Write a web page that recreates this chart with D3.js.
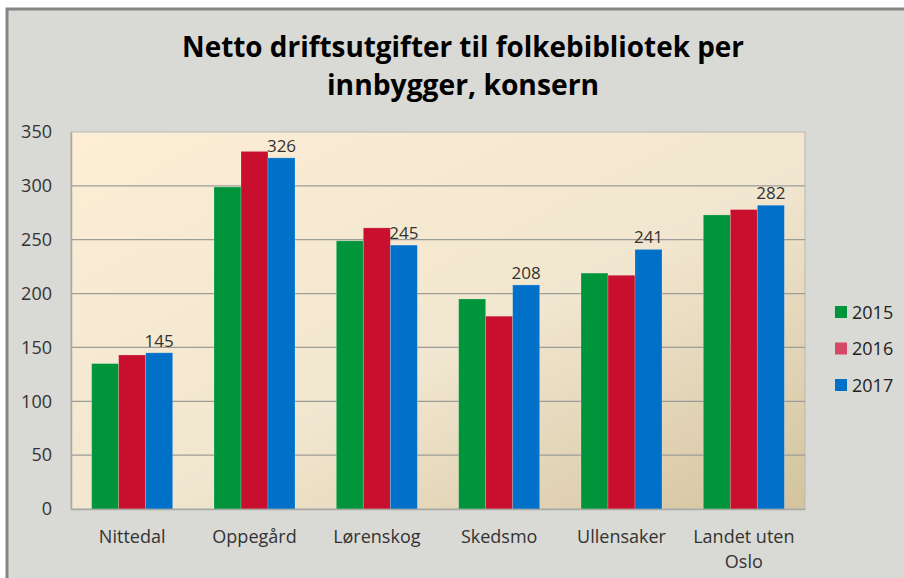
<!DOCTYPE html>
<html>
<head>
<meta charset="utf-8">
<script src="https://cdn.jsdelivr.net/npm/d3@7"></script>
<style>
  body { margin: 0; background: #ffffff; }
  svg { display: block; }
</style>
</head>
<body>
<div id="chart"></div>
<script>
// chart data
var categories = ["Nittedal", "Oppegård", "Lørenskog", "Skedsmo", "Ullensaker", "Landet uten Oslo"];
var years = ["2015", "2016", "2017"];
var values2015 = [135, 299, 249, 195, 219, 273];
var values2016 = [143, 332, 261, 179, 217, 278];
var values2017 = [145, 326, 245, 208, 241, 282];
var yTicks = [0, 50, 100, 150, 200, 250, 300, 350];
var titleLines = ["Netto driftsutgifter til folkebibliotek per", "innbygger, konsern"];

var series = [values2015, values2016, values2017];
var colors = ["#00953a", "#c8102e", "#0070c9"];
var legendColors = ["#00953a", "#d44a66", "#0070c9"];

var width = 904, height = 578;
// plot area
var plot = {left: 71, top: 132, right: 805, bottom: 509};

var svg = d3.select("#chart")
    .append("svg")
    .attr("width", width)
    .attr("height", height);

// outer frame
svg.append("rect")
    .attr("x", 7).attr("y", 9)
    .attr("width", width + 10).attr("height", height + 10)
    .attr("fill", "#d9d9d5")
    .attr("stroke", "#858585")
    .attr("stroke-width", 3);

// gradient for plot area
var defs = svg.append("defs");
var grad = defs.append("linearGradient")
    .attr("id", "plotbg")
    .attr("x1", "0%").attr("y1", "0%")
    .attr("x2", "100%").attr("y2", "100%");
grad.append("stop").attr("offset", "0%").attr("stop-color", "#fdeed5");
grad.append("stop").attr("offset", "55%").attr("stop-color", "#f1e6cf");
grad.append("stop").attr("offset", "100%").attr("stop-color", "#d3c39e");

// title
svg.append("g")
    .selectAll("text")
    .data(titleLines)
  .enter().append("text")
    .attr("x", 463)
    .attr("y", function(d, i) { return 57 + i * 38; })
    .attr("text-anchor", "middle")
    .attr("font-family", "'Open Sans', sans-serif")
    .attr("font-weight", "bold")
    .attr("font-size", 29)
    .attr("fill", "#000")
    .attr("textLength", function(d, i) { return i === 0 ? 562 : 272; })
    .attr("lengthAdjust", "spacingAndGlyphs")
    .text(function(d) { return d; });

// scales
var yScale = d3.scaleLinear()
    .domain([0, 350])
    .range([plot.bottom, plot.top]);

var xScale = d3.scaleBand()
    .domain(categories)
    .range([plot.left, plot.right])
    .paddingInner(0)
    .paddingOuter(0);

var groupWidth = 81;
var xInner = d3.scaleBand()
    .domain(years)
    .range([0, groupWidth]);

// plot background
svg.append("rect")
    .attr("x", plot.left).attr("y", plot.top)
    .attr("width", plot.right - plot.left)
    .attr("height", plot.bottom - plot.top)
    .attr("fill", "url(#plotbg)")
    .attr("stroke", "#b8b8b4")
    .attr("stroke-width", 1);

// gridlines
svg.append("g")
    .selectAll("line")
    .data(yTicks.filter(function(d) { return d > 0 && d < 350; }))
  .enter().append("line")
    .attr("x1", plot.left).attr("x2", plot.right)
    .attr("y1", function(d) { return yScale(d); })
    .attr("y2", function(d) { return yScale(d); })
    .attr("stroke", "#9c9c98")
    .attr("stroke-width", 1.3);

// y axis
var yaxis = d3.axisLeft(yScale)
    .tickValues(yTicks)
    .tickSize(0)
    .tickPadding(19);

var gy = svg.append("g")
    .attr("transform", "translate(" + plot.left + ",0)")
    .call(yaxis);
gy.select(".domain").attr("stroke", "#a8a8a4").attr("stroke-width", 1.5);
gy.selectAll("text")
    .attr("font-family", "'Open Sans', sans-serif")
    .attr("font-size", 18)
    .attr("fill", "#333");

// bars
var groups = svg.append("g")
    .selectAll("g")
    .data(categories)
  .enter().append("g")
    .attr("transform", function(d) {
        return "translate(" + (xScale(d) + (xScale.bandwidth() - groupWidth) / 2) + ",0)";
    });

groups.selectAll("rect")
    .data(function(d, i) {
        return years.map(function(y, j) { return {year: y, value: series[j][i], k: j}; });
    })
  .enter().append("rect")
    .attr("x", function(d) { return xInner(d.year); })
    .attr("y", function(d) { return yScale(d.value); })
    .attr("width", xInner.bandwidth())
    .attr("height", function(d) { return plot.bottom - yScale(d.value); })
    .attr("fill", function(d) { return colors[d.k]; })
    .attr("stroke", "rgba(255,255,255,0.25)")
    .attr("stroke-width", 0.8);

// data labels on 2017 bars
groups.append("text")
    .attr("x", xInner("2017") + xInner.bandwidth() / 2)
    .attr("y", function(d, i) { return yScale(values2017[i]) - 6; })
    .attr("text-anchor", "middle")
    .attr("font-family", "'Open Sans', sans-serif")
    .attr("font-size", 17)
    .attr("fill", "#333")
    .text(function(d, i) { return values2017[i]; });

// x axis
var xaxis = d3.axisBottom(xScale).tickSize(0).tickPadding(0);
var gx = svg.append("g")
    .attr("transform", "translate(0," + plot.bottom + ")")
    .call(xaxis);
gx.select(".domain").attr("stroke", "#a8a8a4").attr("stroke-width", 1.5);
gx.selectAll("text").remove();
gx.selectAll(".tick").append("text")
    .attr("text-anchor", "middle")
    .attr("font-family", "'Open Sans', sans-serif")
    .attr("font-size", 18)
    .attr("fill", "#333")
    .selectAll("tspan")
    .data(function(d) { return d === "Landet uten Oslo" ? ["Landet uten", "Oslo"] : [d]; })
  .enter().append("tspan")
    .attr("x", 0)
    .attr("y", function(d, i) { return 34 + i * 25; })
    .text(function(d) { return d; });

// legend
var legend = svg.append("g")
    .selectAll("g")
    .data(years)
  .enter().append("g")
    .attr("transform", function(d, i) { return "translate(835," + (312 + i * 36.5) + ")"; });

legend.append("rect")
    .attr("x", 0).attr("y", -6)
    .attr("width", 12).attr("height", 12)
    .attr("fill", function(d, i) { return legendColors[i]; });

legend.append("text")
    .attr("x", 17).attr("y", 6.5)
    .attr("font-family", "'Open Sans', sans-serif")
    .attr("font-size", 18)
    .attr("fill", "#222")
    .text(function(d) { return d; });
</script>
</body>
</html>
